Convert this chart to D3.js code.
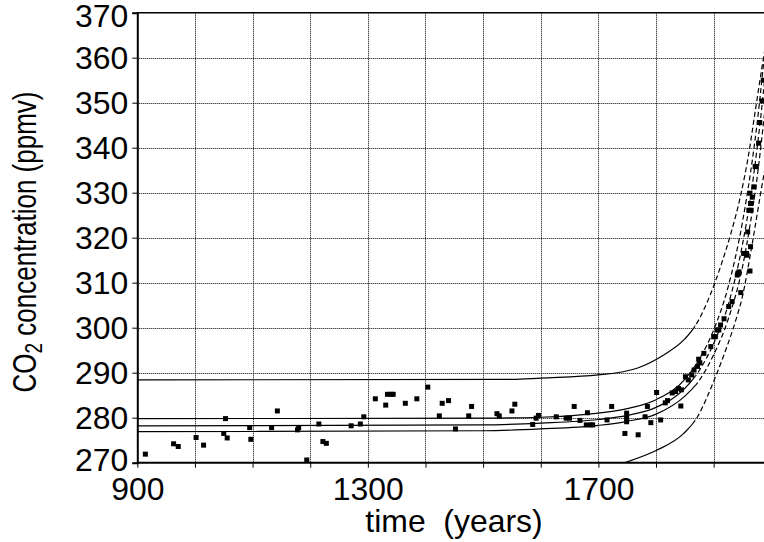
<!DOCTYPE html>
<html>
<head>
<meta charset="utf-8">
<script src="https://cdn.jsdelivr.net/npm/d3@7"></script>
<style>
  body { margin: 0; background: #fff; }
  text { font-family: "Liberation Sans", Arial, sans-serif; fill: #000; }
</style>
</head>
<body>
<div id="chart"></div>
<script>
// ice core + atmospheric samples
var sampleYears = [914, 963, 971, 1002, 1015, 1050, 1053, 1056, 1095, 1097, 1133, 1143, 1178, 1180, 1194,
  1215, 1222, 1228, 1271, 1287, 1293, 1313, 1331, 1334, 1340, 1344, 1365, 1385, 1404, 1424, 1429, 1440,
  1452, 1475, 1480, 1524, 1528, 1550, 1555, 1586, 1592, 1596, 1627, 1644, 1650, 1658, 1668, 1679, 1681,
  1686, 1690, 1715, 1723, 1746, 1749, 1749, 1749, 1769, 1781, 1785, 1791, 1801, 1808, 1816, 1820, 1828,
  1834, 1839, 1843, 1844, 1851, 1856, 1862, 1866, 1872, 1874, 1876, 1883, 1895, 1900, 1903, 1906, 1909,
  1912, 1918, 1926, 1932, 1941, 1942, 1944, 1947, 1952, 1957, 1958, 1959, 1961, 1963, 1963, 1964, 1964,
  1965, 1967, 1970, 1972, 1974, 1978, 1980, 1984, 1986];
var sampleCO2 = [271.9, 274.2, 273.6, 275.6, 273.9, 276.5, 279.8, 275.5, 277.8, 275.2, 277.8, 281.5, 277.3, 277.8, 270.6,
  278.6, 274.7, 274.3, 278.2, 278.6, 280.2, 284.2, 282.8, 285.2, 285.2, 285.2, 283.2, 284.2, 286.8, 280.4, 283.2, 283.8,
  277.5, 280.4, 282.5, 280.9, 280.4, 281.5, 283.0, 278.5, 279.9, 280.5, 280.2, 279.9, 279.9, 282.5, 279.4, 278.4, 281.1,
  278.4, 278.4, 279.5, 282.5, 276.5, 281.0, 279.9, 279.1, 276.2, 280.2, 282.5, 278.9, 285.6, 279.5, 283.3, 283.8, 285.5,
  285.8, 286.5, 282.6, 286.2, 289.1, 288.4, 289.5, 290.6, 291.4, 293.0, 292.2, 294.3, 295.8, 298.0, 298.0, 299.5, 299.5,
  300.6, 302.0, 304.7, 305.8, 311.7, 312.1, 312.4, 307.8, 316.5, 316.5, 316.1, 321.3, 326.1, 312.6, 329.9, 318.0, 327.6,
  326.1, 329.0, 331.3, 335.8, 335.8, 341.0, 345.6, 350.4, 355.0];

// fitted curve and its bands
var fitYears = [900, 1500, 1600, 1700, 1750, 1800, 1850, 1875, 1900, 1925, 1950, 1964, 1975, 1986, 2000];
var fitCO2 = [278.2, 278.4, 278.8, 279.6, 280.5, 282.3, 286.5, 290.5, 296.5, 305, 318.5, 329, 339.5, 352, 372];
var innerUpper = [279.8, 279.9, 280.1, 281, 282, 284, 288.5, 293, 299.5, 309, 323.5, 334.5, 345, 358, 377];
var innerLower = [276.9, 277.1, 277.5, 278.3, 279.2, 280.8, 284.8, 288.3, 294, 301.8, 313.5, 323.5, 333, 345, 363];

var outerUpperYears = [900, 1550, 1600, 1700, 1767, 1814, 1850, 1866, 1895, 1912, 1930, 1947, 1960, 1972, 1984, 2000];
var outerUpperCO2 = [288.4, 288.5, 288.8, 289.5, 291, 294, 297.5, 300, 307.6, 313.6, 321, 329.5, 338, 348, 358, 370];
var outerLowerYears = [1730, 1750, 1800, 1848, 1872, 1889, 1906, 1925, 1938, 1950, 1964, 1972, 1981, 2000];
var outerLowerCO2 = [269.4, 270.2, 272.7, 276.5, 280.2, 284.7, 290, 296.5, 301.5, 307, 316.5, 322.5, 329.5, 343];

var yearTicks = [900, 1000, 1100, 1200, 1300, 1400, 1500, 1600, 1700, 1800, 1900, 2000];
var yearLabels = [900, 1300, 1700];
var co2Ticks = [270, 280, 290, 300, 310, 320, 330, 340, 350, 360, 370];

var width = 764, height = 542;
var stretch = 1.03;   // lettering is a touch wide

var x = d3.scaleLinear().domain([900, 2000]).range([137.3, 771.3]);
var y = d3.scaleLinear().domain([270, 370]).range([462.7, 12.7]);

var svg = d3.select("#chart").append("svg")
  .attr("width", width)
  .attr("height", height);

var defs = svg.append("defs");
defs.append("clipPath").attr("id", "plot")
  .append("rect")
  .attr("x", x(900)).attr("y", y(370))
  .attr("width", x(2000) - x(900)).attr("height", y(270) - y(370));
defs.append("clipPath").attr("id", "early")
  .append("rect")
  .attr("x", x(900)).attr("y", y(370))
  .attr("width", x(1868) - x(900)).attr("height", y(270) - y(370));
defs.append("clipPath").attr("id", "late")
  .append("rect")
  .attr("x", x(1868)).attr("y", y(370))
  .attr("width", x(2000) - x(1868)).attr("height", y(270) - y(370));

//dotted grid
var crisp = function(v) { return Math.round(v) + 0.5; };
svg.append("g").selectAll("line")
  .data(yearTicks.filter(function(d) { return d > 900; }))
  .enter().append("line")
  .attr("x1", function(d) { return crisp(x(d)); })
  .attr("x2", function(d) { return crisp(x(d)); })
  .attr("y1", y(370)).attr("y2", y(270))
  .attr("stroke", "#000").attr("stroke-dasharray", "1,1");
svg.append("g").selectAll("line")
  .data(co2Ticks.filter(function(d) { return d > 270 && d < 370; }))
  .enter().append("line")
  .attr("y1", function(d) { return crisp(y(d)); })
  .attr("y2", function(d) { return crisp(y(d)); })
  .attr("x1", x(900)).attr("x2", width)
  .attr("stroke", "#000").attr("stroke-dasharray", "1,1");

//curves: solid until the late 1860s, dashed after
var curves = [
  { years: fitYears, vals: fitCO2 },
  { years: fitYears, vals: innerUpper },
  { years: fitYears, vals: innerLower },
  { years: outerUpperYears, vals: outerUpperCO2 },
  { years: outerLowerYears, vals: outerLowerCO2 }
];
var line = d3.line()
  .x(function(d) { return x(d[0]); })
  .y(function(d) { return y(d[1]); })
  .curve(d3.curveMonotoneX);

var curveLayer = svg.append("g").attr("clip-path", "url(#plot)");
curves.forEach(function(c) {
  var pts = c.years.map(function(yr, i) { return [yr, c.vals[i]]; });
  curveLayer.append("g").attr("clip-path", "url(#early)")
    .append("path")
    .attr("d", line(pts))
    .attr("fill", "none").attr("stroke", "#000").attr("stroke-width", 1.2);
  curveLayer.append("g").attr("clip-path", "url(#late)")
    .append("path")
    .attr("d", line(pts))
    .attr("fill", "none").attr("stroke", "#000").attr("stroke-width", 1.2)
    .attr("stroke-dasharray", "5,3");
});

//samples
svg.append("g").attr("clip-path", "url(#plot)")
  .selectAll("rect")
  .data(sampleYears.map(function(yr, i) { return [yr, sampleCO2[i]]; }))
  .enter().append("rect")
  .attr("x", function(d) { return x(d[0]) - 2.5; })
  .attr("y", function(d) { return y(d[1]) - 2.5; })
  .attr("width", 5).attr("height", 5)
  .attr("fill", "#000");

//frame top
svg.append("line")
  .attr("x1", x(900)).attr("x2", width)
  .attr("y1", y(370)).attr("y2", y(370))
  .attr("stroke", "#000").attr("stroke-width", 1.5);

//axes
var yAxis = d3.axisLeft(y)
  .tickValues(co2Ticks)
  .tickSize(5)
  .tickPadding(9);
var gy = svg.append("g")
  .attr("transform", "translate(" + x(900) + ",0)")
  .call(yAxis);
gy.select(".domain").attr("stroke-width", 2);
gy.selectAll("text")
  .attr("font-size", 31)
  .attr("font-family", "Liberation Sans, Arial, sans-serif")
  .attr("x", -9 / stretch)
  .attr("dy", function(d) { return d === 370 ? "0.45em" : d === 270 ? "0.25em" : "0.36em"; })
  .attr("transform", "scale(" + stretch + ",1)");

var xAxis = d3.axisBottom(x)
  .tickValues(yearTicks)
  .tickSize(5)
  .tickFormat(function(d) { return yearLabels.indexOf(d) >= 0 ? d : ""; });
var gx = svg.append("g")
  .attr("transform", "translate(0," + y(270) + ")")
  .call(xAxis);
gx.select(".domain").attr("stroke-width", 2).attr("d", "M" + x(900) + ",0H" + width);
gx.selectAll("text")
  .attr("font-size", 31)
  .attr("font-family", "Liberation Sans, Arial, sans-serif")
  .attr("y", 37)
  .attr("dy", 0)
  .attr("x", 0)
  .attr("transform", "scale(" + stretch + ",1)");

//axis titles
svg.append("text")
  .attr("transform", "translate(454,532) scale(" + stretch + ",1)")
  .attr("text-anchor", "middle")
  .attr("font-size", 31)
  .style("white-space", "pre")
  .text("time  (years)");

var yTitle = svg.append("text")
  .attr("transform", "translate(36,242) scale(1.27,1) rotate(-90)")
  .attr("text-anchor", "middle")
  .attr("font-size", 26);
yTitle.append("tspan").text("CO");
yTitle.append("tspan").attr("font-size", 19).attr("dy", 5).text("2");
yTitle.append("tspan").attr("dy", -5).text(" concentration (ppmv)");
</script>
</body>
</html>
